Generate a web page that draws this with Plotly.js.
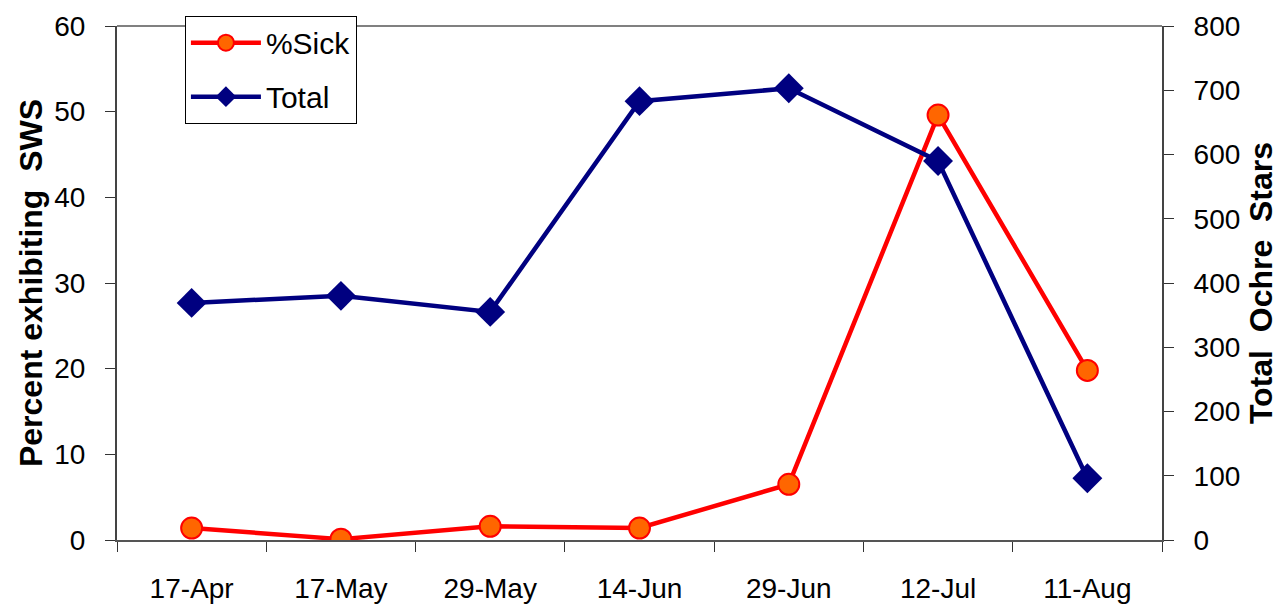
<!DOCTYPE html>
<html>
<head>
<meta charset="utf-8">
<script src="https://cdn.plot.ly/plotly-3.0.1.min.js"></script>
<style>html,body{margin:0;padding:0;background:#fff;}#chart{width:1283px;height:608px;}</style>
</head>
<body>
<div id="chart"></div>
<script>
const categories = ["17-Apr", "17-May", "29-May", "14-Jun", "29-Jun", "12-Jul", "11-Aug"];
const pctSick = [1.4, 0.1, 1.6, 1.4, 6.5, 49.6, 19.8];
const totalStars = [369, 380, 355, 683, 703, 590, 96];
const leftTicks = [0, 10, 20, 30, 40, 50, 60];
const rightTicks = [0, 100, 200, 300, 400, 500, 600, 700, 800];

const FONT = "Arial, 'Liberation Sans', sans-serif";
const boundaries = categories.map((c, i) => i - 0.5).concat([categories.length - 0.5]);

const traces = [
  {
    x: categories, y: pctSick, name: "%Sick", type: "scatter", mode: "lines+markers",
    xaxis: "x", yaxis: "y", legendgroup: "a",
    line: {color: "#FF0000", width: 4.5},
    marker: {symbol: "circle", size: 21, color: "#FF6600", line: {color: "#FF0000", width: 2}}
  },
  {
    x: categories, y: totalStars, name: "Total", type: "scatter", mode: "lines+markers",
    xaxis: "x", yaxis: "y2", legendgroup: "b",
    line: {color: "#000080", width: 4.5},
    marker: {symbol: "diamond", size: 23, color: "#000080", line: {color: "#000080", width: 0}}
  }
];

const layout = {
  width: 1283, height: 608,
  margin: {l: 117, r: 121, t: 26, b: 68},
  paper_bgcolor: "#ffffff", plot_bgcolor: "#ffffff",
  font: {family: FONT, size: 28, color: "#000"},
  showlegend: true,
  legend: {
    x: 0.065, y: 1.02, xanchor: "left", yanchor: "top",
    bgcolor: "#ffffff", bordercolor: "#000000", borderwidth: 1,
    font: {family: FONT, size: 30, color: "#000"},
    itemwidth: 70,
    traceorder: "grouped", tracegroupgap: 12
  },
  xaxis: {
    type: "category", categoryarray: categories, range: [-0.5, categories.length - 0.5],
    tickson: "boundaries", ticks: "outside", ticklen: 10, tickcolor: "#333", tickwidth: 1,
    showline: true, linecolor: "#555", linewidth: 2, showgrid: false, zeroline: false,
    tickfont: {family: FONT, size: 28}, ticklabelstandoff: 22, fixedrange: true
  },
  xaxis2: {
    overlaying: "x", anchor: "y", type: "linear", range: [-0.5, categories.length - 0.5],
    tickmode: "array", tickvals: boundaries, ticks: "inside", ticklen: 10, tickcolor: "#333",
    showticklabels: false, showline: false, showgrid: false, zeroline: false
  },
  yaxis: {
    range: [0, 60], tickmode: "array", tickvals: leftTicks, ticks: "outside", ticklen: 10,
    tickcolor: "#333", showline: true, linecolor: "#444", linewidth: 2, showgrid: false, zeroline: false,
    tickfont: {family: FONT, size: 28}, ticklabelstandoff: 14,
    title: {text: "Percent exhibiting  SWS", font: {family: FONT, size: 32, weight: "bold"}, standoff: 2}
  },
  yaxis2: {
    overlaying: "y", side: "right", anchor: "x", range: [0, 800], tickmode: "array", tickvals: rightTicks,
    ticks: "outside", ticklen: 10, tickcolor: "#333", showline: true, linecolor: "#444", linewidth: 2,
    showgrid: false, zeroline: false, tickfont: {family: FONT, size: 28}, ticklabelstandoff: 14,
    title: {text: "Total  Ochre  Stars", font: {family: FONT, size: 32, weight: "bold"}, standoff: 10}
  },
  yaxis3: {
    overlaying: "y", side: "left", anchor: "x", range: [0, 60], tickmode: "array", tickvals: leftTicks,
    ticks: "inside", ticklen: 10, tickcolor: "#333", showticklabels: false, showline: false, showgrid: false, zeroline: false
  },
  yaxis4: {
    overlaying: "y", side: "right", anchor: "x", range: [0, 800], tickmode: "array", tickvals: rightTicks,
    ticks: "inside", ticklen: 10, tickcolor: "#333", showticklabels: false, showline: false, showgrid: false, zeroline: false
  },
  shapes: [
    {type: "line", xref: "paper", yref: "paper", x0: 0, x1: 1, y0: 1, y1: 1, line: {color: "#808080", width: 2}, layer: "below"}
  ]
};

Plotly.newPlot("chart", traces, layout, {staticPlot: true, displayModeBar: false});
</script>
</body>
</html>
